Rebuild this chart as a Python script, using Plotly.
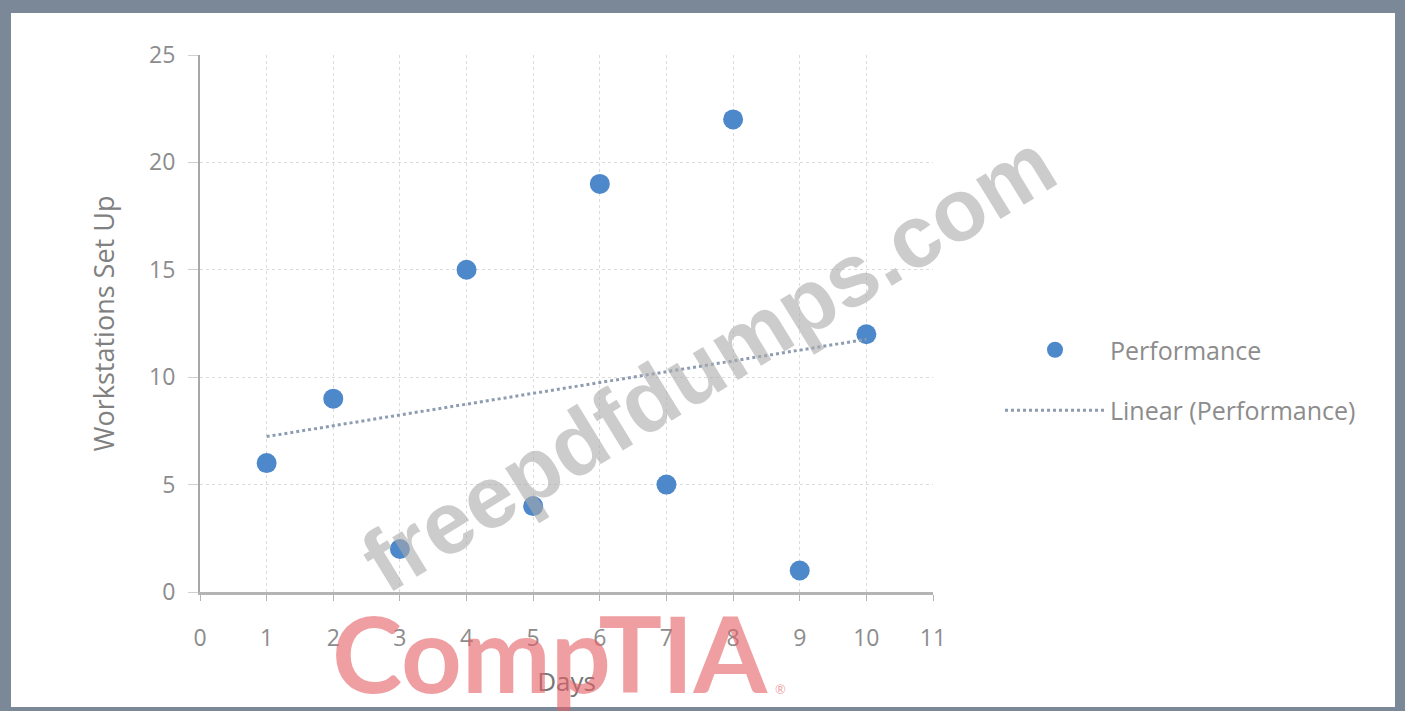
import numpy as np
import plotly.graph_objects as go

# Workstations set up per day
days = [1, 2, 3, 4, 5, 6, 7, 8, 9, 10]
workstations = [6, 9, 2, 15, 4, 19, 5, 22, 1, 12]

x_ticks = list(range(0, 12))
y_ticks = [0, 5, 10, 15, 20, 25]

# least-squares trend line over the observed days
slope, intercept = np.polyfit(days, workstations, 1)
trend_x = [days[0], days[-1]]
trend_y = [slope * d + intercept for d in trend_x]

W, H = 1405, 711
L, R, T, B = 200, 933, 55, 592  # plot area edges in px


def px(x):
    return (x - L) / (R - L)


def py(y):
    return (B - y) / (B - T)


GRAY_TXT = "#8c8c8c"
FONT = "Open Sans"

fig = go.Figure()
fig.add_trace(go.Scatter(
    x=days, y=workstations, mode="markers", name="Performance",
    legendgroup="a",
    marker=dict(size=20, color="#4d88cb"),
))
fig.add_trace(go.Scatter(
    x=trend_x, y=trend_y, mode="lines", name="Linear (Performance)",
    legendgroup="b",
    line=dict(color="#8e9cb2", width=3, dash="dot"),
))

fig.update_layout(
    width=W, height=H,
    margin=dict(l=L, r=W - R, t=T, b=H - B),
    paper_bgcolor="#7a8898",
    plot_bgcolor="white",
    font=dict(family=FONT, color=GRAY_TXT),
    showlegend=True,
    legend=dict(
        x=px(1000), y=py(327), xanchor="left", yanchor="top",
        font=dict(size=25, color=GRAY_TXT, family=FONT),
        itemwidth=100, tracegroupgap=25, bgcolor="rgba(0,0,0,0)",
    ),
    shapes=[dict(
        type="rect", xref="paper", yref="paper",
        x0=px(11), x1=px(1395), y0=py(707), y1=py(13),
        fillcolor="white", line=dict(width=0), layer="below",
    )],
)

fig.update_xaxes(
    range=[0, 11], tickvals=x_ticks, ticktext=[str(v) for v in x_ticks],
    showgrid=True, gridcolor="#dcdcdc", gridwidth=1, griddash="dot",
    showline=True, linecolor="#b4b4b4", linewidth=3,
    ticks="outside", ticklen=6, tickcolor="#b4b4b4",
    ticklabelstandoff=17,
    tickfont=dict(size=23, color=GRAY_TXT),
    zeroline=False,
    title=dict(text="Days", font=dict(size=26, color="#777777"), standoff=22),
)
fig.update_yaxes(
    range=[0, 25], tickvals=y_ticks,
    showgrid=True, gridcolor="#dcdcdc", gridwidth=1, griddash="dot",
    showline=True, linecolor="#a8a8a8", linewidth=2,
    ticks="outside", ticklen=10, tickcolor="#d0d0d0",
    ticklabelstandoff=8,
    tickfont=dict(size=23, color=GRAY_TXT),
    zeroline=False,
    title=dict(text="Workstations Set Up", font=dict(size=27, color="#808080"), standoff=27),
)

# watermarks
fig.add_annotation(
    x=px(708), y=py(362), xref="paper", yref="paper",
    xanchor="center", yanchor="middle",
    text="<b>freepdfdumps.com</b>", showarrow=False, textangle=-31.5,
    font=dict(family="Liberation Sans", size=88, color="rgba(170,170,170,0.6)"),
)
fig.add_annotation(
    x=px(550), y=py(652), xref="paper", yref="paper",
    xanchor="center", yanchor="middle",
    text="<b>CompTIA</b>", showarrow=False,
    font=dict(family="Lato", size=106, color="rgba(228,95,100,0.6)"),
)
fig.add_annotation(
    x=px(780), y=py(689), xref="paper", yref="paper",
    xanchor="center", yanchor="middle",
    text="®", showarrow=False,
    font=dict(family="Lato", size=13, color="rgba(228,95,100,0.6)"),
)

fig.write_html("out.html")
